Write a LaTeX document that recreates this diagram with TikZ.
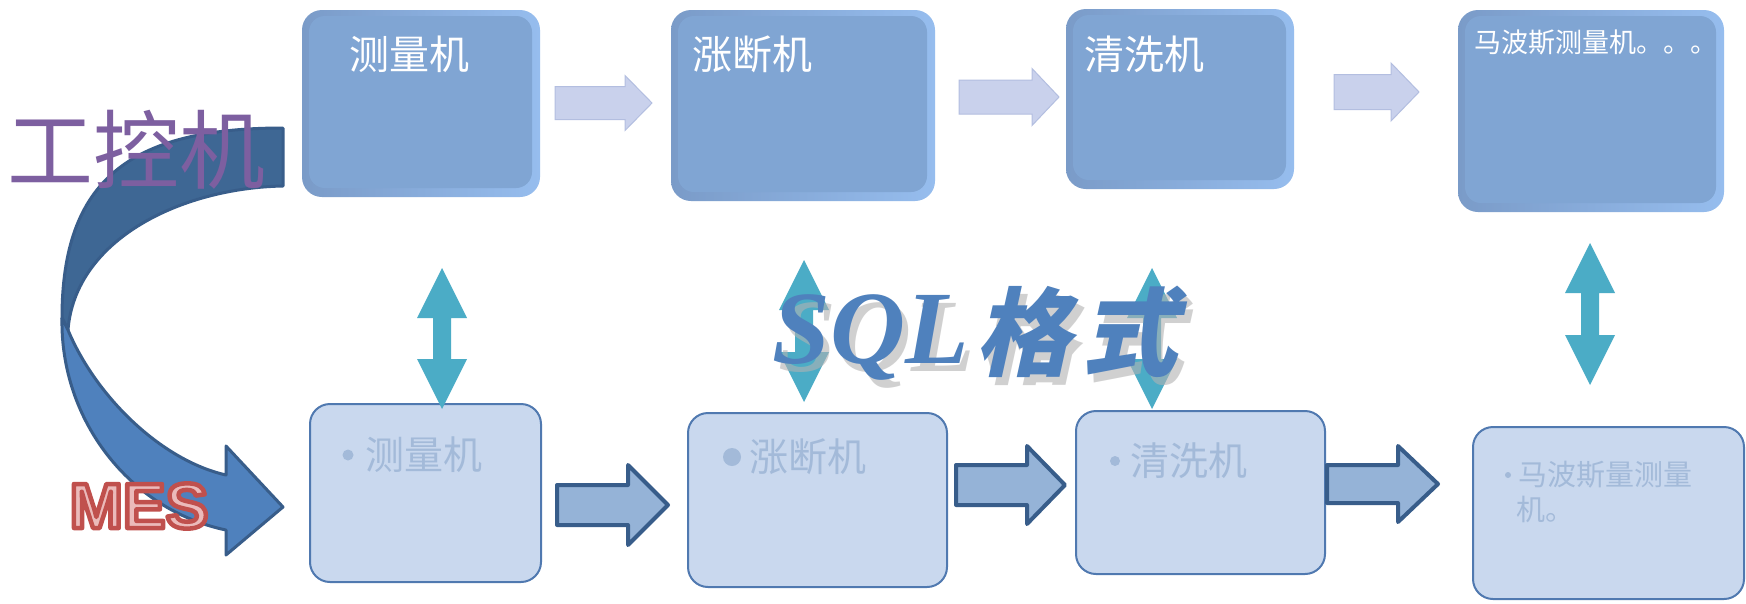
\documentclass[tikz,border=0pt]{standalone}
\usepackage{fontspec}
\usetikzlibrary{calc}
\newfontfamily\cjk{Noto Sans CJK SC}
\newfontfamily\cjkslant[FakeSlant=0.22]{Noto Sans CJK SC}
\newfontfamily\sqlfont{Liberation Serif}
\newfontfamily\mesfont{Liberation Sans}
\definecolor{tbL}{HTML}{7A9BC8}
\definecolor{tbR}{HTML}{96BDEE}
\definecolor{tbIn}{HTML}{80A5D3}
\definecolor{taFill}{HTML}{C9D1EC}
\definecolor{taDraw}{HTML}{B3BEE0}
\definecolor{bbFill}{HTML}{C9D8EE}
\definecolor{bbDraw}{HTML}{5079B0}
\definecolor{bbText}{HTML}{A3BAD9}
\definecolor{baFill}{HTML}{95B3D7}
\definecolor{baDraw}{HTML}{385D8A}
\definecolor{vaFill}{HTML}{4BACC6}
\definecolor{caDark}{HTML}{3E6794}
\definecolor{caLight}{HTML}{4F81BD}
\definecolor{ipcPurple}{HTML}{7D5FA0}
\definecolor{mesPink}{HTML}{EBBABA}
\definecolor{sqlBlue}{HTML}{4F81BD}
\newcommand\mkharrow[7]{% style, x left, x head base, x tip, y centre, shaft half, head half
  \path[#1] (#2,{#5-#6}) -- (#3,{#5-#6}) -- (#3,{#5-#7}) -- (#4,#5) -- (#3,{#5+#7}) -- (#3,{#5+#6}) -- (#2,{#5+#6}) -- cycle;}
\newcommand\mkvarrow[3]{% x centre, y top, y bottom
  \fill[vaFill] (#1,#2) -- ({#1+25},{#2+50}) -- ({#1+9},{#2+50}) -- ({#1+9},{#3-50}) -- ({#1+25},{#3-50}) -- (#1,#3) -- ({#1-25},{#3-50}) -- ({#1-9},{#3-50}) -- ({#1-9},{#2+50}) -- ({#1-25},{#2+50}) -- cycle;}
\begin{document}
\begin{tikzpicture}[x=1pt,y=-1pt,
  topbox/.style={rounded corners=20pt, left color=tbL, right color=tbR, inner sep=0pt, outer sep=0pt},
  topinner/.style={fill=tbIn, rounded corners=16pt},
  toptext/.style={text=white, inner sep=0pt, font=\cjk\fontsize{40}{44}\selectfont},
  toparrow/.style={fill=taFill, draw=taDraw, line width=1pt},
  botbox/.style={fill=bbFill, draw=bbDraw, line width=2pt, rounded corners=20pt, inner sep=0pt, outer sep=0pt},
  bottext/.style={text=bbText, inner sep=0pt, font=\cjk\fontsize{39}{44}\selectfont},
  botarrow/.style={fill=baFill, draw=baDraw, line width=4pt, line join=round},
  curve/.style={draw=baDraw, line width=3pt, line join=round}]
\useasboundingbox (0,0) rectangle (1746,603);
\fill[white] (0,0) rectangle (1746,603);

% top boxes
\node[topbox, minimum width=238pt, minimum height=187pt] (t1) at (421,103.5) {};
\node[topbox, minimum width=264pt, minimum height=191pt] (t2) at (803,105.5) {};
\node[topbox, minimum width=228pt, minimum height=180pt] (t3) at (1180,99) {};
\node[topbox, minimum width=266pt, minimum height=202pt] (t4) at (1591,111) {};
\foreach \b in {t1,t2,t3,t4}{
  \fill[topinner] ($(\b.north west)+(7,6)$) rectangle ($(\b.south east)+(-8,-9)$);
}
\node[toptext] (t1l) at (409,54) {测量机};
\node[toptext, anchor=west] (t2l) at (692,54) {涨断机};
\node[toptext, anchor=west] (t3l) at (1084,54) {清洗机};
\node[text=white, inner sep=0pt, anchor=west, font=\cjk\fontsize{27}{30}\selectfont] (t4l) at (1474,42) {马波斯测量机。。。};

% top arrows
\mkharrow{toparrow}{555}{625}{652}{103}{16.5}{27.5}
\mkharrow{toparrow}{959}{1032}{1059}{97}{17}{28.5}
\mkharrow{toparrow}{1334}{1391}{1419}{92}{17.5}{29}

% bottom boxes
\node[botbox, minimum width=231pt, minimum height=178pt] (b1) at (425.5,493) {};
\node[botbox, minimum width=259pt, minimum height=174pt] (b2) at (817.5,500) {};
\node[botbox, minimum width=249pt, minimum height=163pt] (b3) at (1200.5,492.5) {};
\node[botbox, minimum width=271pt, minimum height=172pt] (b4) at (1608.5,513) {};
\fill[bbText] (348,455) circle (5.5);
\node[bottext, anchor=west] (b1l) at (365,455) {测量机};
\fill[bbText] (732,457) circle (9);
\node[bottext, anchor=west] (b2l) at (749,457) {涨断机};
\fill[bbText] (1115,461) circle (5);
\node[bottext, anchor=west] (b3l) at (1130,461) {清洗机};
\fill[bbText] (1508,475) circle (3);
\node[bottext, anchor=west, font=\cjk\fontsize{29}{32}\selectfont] (b4l) at (1518,475) {马波斯量测量};
\node[bottext, anchor=west, font=\cjk\fontsize{29}{32}\selectfont] (b4m) at (1516,509) {机。};

% bottom arrows
\mkharrow{botarrow}{557}{628}{668}{505}{20}{40}
\mkharrow{botarrow}{956}{1027}{1065}{485}{20}{39}
\mkharrow{botarrow}{1327}{1398}{1438}{484}{19}{38}

% vertical double arrows
\mkvarrow{442}{268}{409}
\mkvarrow{804}{260}{402}
\mkvarrow{1152}{268}{409}
\mkvarrow{1590}{243}{385}

% curved arrow
\path[curve, fill=caDark] (283,128) -- (283,186) .. controls (180,188) and (75,240) .. (68,330)
   -- (62,318) .. controls (62,180) and (130,128) .. (283,128) -- cycle;
\path[curve, fill=caLight] (62,318) .. controls (60,420) and (130,510) .. (226,530)
   -- (226,555) -- (283,507) -- (226,446) -- (226,475)
   .. controls (160,460) and (95,395) .. (68,330) -- cycle;

% labels
\node[text=ipcPurple, inner sep=0pt, font=\cjk\fontsize{86}{90}\selectfont] (ipc) at (137,150) {工控机};
\node[inner sep=0pt, text=mesPink, font=\mesfont\bfseries\fontsize{64}{68}\selectfont] (mes) at (139,506)
  {\special{pdf:literal direct 0.753 0.314 0.302 RG 4.5 w 1 j 2 Tr}MES\special{pdf:literal direct 0 Tr}};

% SQL label with shadow
\node[anchor=base west, inner sep=0pt, text=gray!60, opacity=0.6, font=\sqlfont\bfseries\itshape\fontsize{104}{110}\selectfont] (sqls) at (778,371) {SQL};
\node[anchor=base west, inner sep=0pt, text=gray!60, opacity=0.6, font=\cjkslant\bfseries\fontsize{96}{100}\selectfont] (fmts) at (981,376) {格\hspace{10pt}式};
\node[anchor=base west, inner sep=0pt, text=sqlBlue, font=\sqlfont\bfseries\itshape\fontsize{104}{110}\selectfont] (sql) at (772,363) {SQL};
\node[anchor=base west, inner sep=0pt, text=sqlBlue, font=\cjkslant\bfseries\fontsize{96}{100}\selectfont] (fmt) at (975,368) {格\hspace{10pt}式};
\end{tikzpicture}
\end{document}
